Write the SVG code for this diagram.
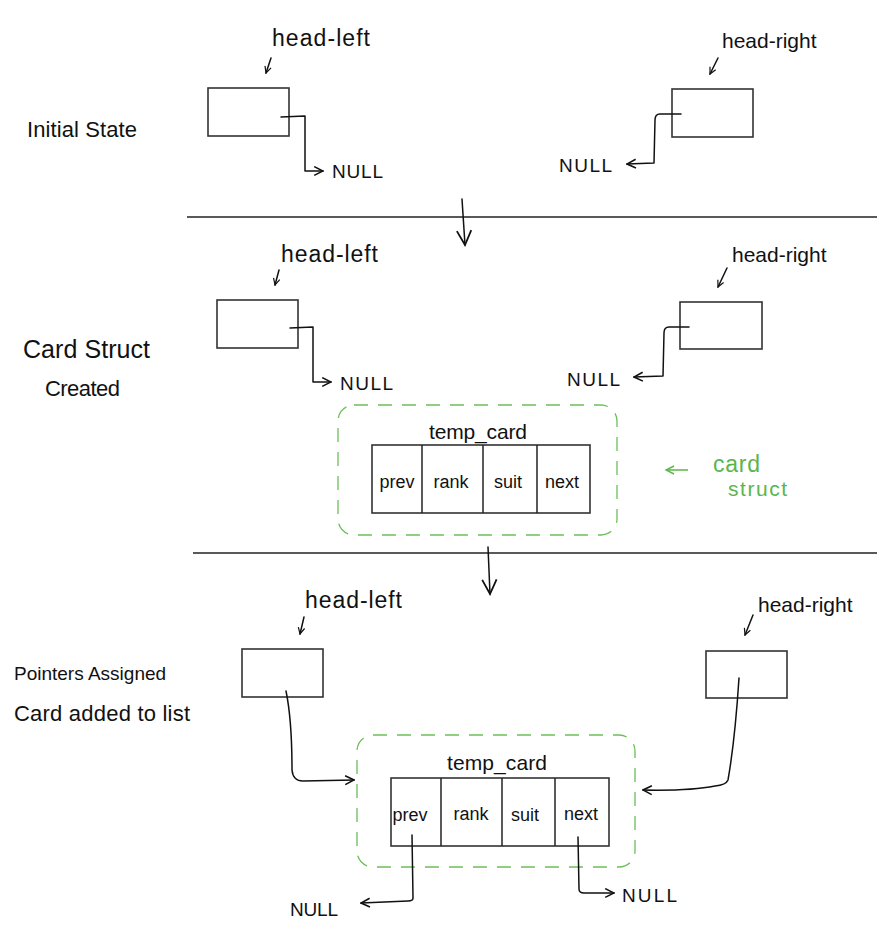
<svg xmlns="http://www.w3.org/2000/svg" width="893" height="929" viewBox="0 0 893 929">
<style>
text{font-family:"Liberation Sans","DejaVu Sans",sans-serif;fill:#111}
.lbl{font-size:22px}
.hd{font-size:23px}
.hr{font-size:21px}
.nul{font-size:19px}
.cell{font-size:18px}
.tc{font-size:21px}
.box{fill:#fff;stroke:#333;stroke-width:1.6}
.ln{fill:none;stroke:#111;stroke-width:1.5;stroke-linecap:round;stroke-linejoin:round}
.div{stroke:#222;stroke-width:1.5}
.grp{fill:none;stroke:#6cbf5a;stroke-width:1.3;stroke-dasharray:14 10}
.grn{fill:#5cb54a}
</style>
<defs>
<marker id="ah" viewBox="0 0 10 10" refX="9" refY="5" markerWidth="11" markerHeight="11" markerUnits="userSpaceOnUse" orient="auto">
<path d="M1,1 L9,5 L1,9" fill="none" stroke="#111" stroke-width="1.4"/>
</marker>
<marker id="ahs" viewBox="0 0 10 10" refX="9" refY="5" markerWidth="8" markerHeight="8" markerUnits="userSpaceOnUse" orient="auto">
<path d="M1,1 L9,5 L1,9" fill="none" stroke="#111" stroke-width="1.5"/>
</marker>
<marker id="ahb" viewBox="0 0 10 10" refX="9" refY="5" markerWidth="18" markerHeight="18" markerUnits="userSpaceOnUse" orient="auto">
<path d="M1,1 L9,5 L1,9" fill="none" stroke="#111" stroke-width="1"/>
</marker>
<marker id="ahg" viewBox="0 0 10 10" refX="9" refY="5" markerWidth="10" markerHeight="10" markerUnits="userSpaceOnUse" orient="auto">
<path d="M1,1 L9,5 L1,9" fill="none" stroke="#5cb54a" stroke-width="1.4"/>
</marker>
</defs>

<g id="labels">
<text class="lbl" x="27" y="137" textLength="110">Initial State</text>
<text x="23" y="358" style="font-size:25px" textLength="127">Card Struct</text>
<text class="lbl" x="45" y="396" textLength="75">Created</text>
<text x="14" y="680" style="font-size:19px">Pointers Assigned</text>
<text class="lbl" x="14" y="721" textLength="176">Card added to list</text>
</g>

<g id="dividers">
<line class="div" x1="187" y1="217" x2="877" y2="217"/>
<line class="div" x1="193" y1="553" x2="877" y2="553"/>
</g>

<g id="s1-head-left">
<text class="hd" x="272" y="46" textLength="98">head-left</text>
<rect class="box" x="208" y="88" width="81" height="48"/>
</g>
<g id="s1-head-right">
<text class="hr" x="722" y="48">head-right</text>
<rect class="box" x="672" y="89" width="81" height="48"/>
</g>
<g id="s1-null-left"><text class="nul" x="332" y="178" textLength="51">NULL</text></g>
<g id="s1-null-right"><text class="nul" x="559" y="172" textLength="53">NULL</text></g>

<g id="s2-head-left">
<text class="hd" x="281" y="262" textLength="97">head-left</text>
<rect class="box" x="217" y="300" width="81" height="48"/>
</g>
<g id="s2-head-right">
<text class="hr" x="732" y="262">head-right</text>
<rect class="box" x="680" y="302" width="82" height="47"/>
</g>
<g id="s2-null-left"><text class="nul" x="340" y="390" textLength="53">NULL</text></g>
<g id="s2-null-right"><text class="nul" x="567" y="386" textLength="53">NULL</text></g>
<g id="s2-temp-card">
<rect class="grp" x="338" y="405" width="279" height="130" rx="16"/>
<text class="tc" x="478" y="439" text-anchor="middle" textLength="98">temp_card</text>
<rect class="box" x="372" y="445" width="218" height="68"/>
<line class="div" x1="422" y1="445" x2="422" y2="513"/>
<line class="div" x1="483" y1="445" x2="483" y2="513"/>
<line class="div" x1="537" y1="445" x2="537" y2="513"/>
<text class="cell" x="397" y="488" text-anchor="middle">prev</text>
<text class="cell" x="451" y="488" text-anchor="middle">rank</text>
<text class="cell" x="508" y="488" text-anchor="middle">suit</text>
<text class="cell" x="562" y="488" text-anchor="middle">next</text>
</g>
<g id="s2-card-struct-note">
<text class="grn" x="713" y="472" style="font-size:23px" textLength="47">card</text>
<text class="grn" x="728" y="496" style="font-size:21px" textLength="59">struct</text>
</g>

<g id="s3-head-left">
<text class="hd" x="305" y="608" textLength="97">head-left</text>
<rect class="box" x="242" y="649" width="81" height="48"/>
</g>
<g id="s3-head-right">
<text class="hr" x="758" y="612">head-right</text>
<rect class="box" x="706" y="651" width="81" height="47"/>
</g>
<g id="s3-temp-card">
<rect class="grp" x="357" y="735" width="278" height="132" rx="16"/>
<text class="tc" x="497" y="770" text-anchor="middle" textLength="100">temp_card</text>
<rect class="box" x="391" y="778" width="218" height="68"/>
<line class="div" x1="441" y1="778" x2="441" y2="846"/>
<line class="div" x1="502" y1="778" x2="502" y2="846"/>
<line class="div" x1="555" y1="778" x2="555" y2="846"/>
<text class="cell" x="410" y="821" text-anchor="middle">prev</text>
<text class="cell" x="471" y="820" text-anchor="middle">rank</text>
<text class="cell" x="525" y="821" text-anchor="middle">suit</text>
<text class="cell" x="581" y="820" text-anchor="middle">next</text>
</g>
<g id="s3-null-left"><text class="nul" x="290" y="916" textLength="48">NULL</text></g>
<g id="s3-null-right"><text class="nul" x="622" y="902" textLength="55">NULL</text></g>

<g id="connectors">
<line class="ln" x1="271" y1="58" x2="266" y2="73" marker-end="url(#ahs)"/>
<line class="ln" x1="718" y1="58" x2="710" y2="74" marker-end="url(#ahs)"/>
<line class="ln" x1="279" y1="270" x2="275" y2="285" marker-end="url(#ahs)"/>
<line class="ln" x1="727" y1="268" x2="718" y2="287" marker-end="url(#ahs)"/>
<line class="ln" x1="304" y1="617" x2="300" y2="634" marker-end="url(#ahs)"/>
<line class="ln" x1="753" y1="615" x2="745" y2="635" marker-end="url(#ahs)"/>
<path class="ln" d="M281,117 L305,116 L305,171 L323,171" marker-end="url(#ah)"/>
<path class="ln" d="M681,114 L660,114 Q655,114 655,120 L654,163 L627,164" marker-end="url(#ah)"/>
<path class="ln" d="M462,199 L465,245" marker-end="url(#ahb)"/>
<path class="ln" d="M488,547 L490,594" marker-end="url(#ahb)"/>
<path class="ln" d="M290,328 L313,327 L313,382 L331,382" marker-end="url(#ah)"/>
<path class="ln" d="M689,327 L669,327 Q664,327 664,333 L663,376 L634,377" marker-end="url(#ah)"/>
<line x1="688" y1="470" x2="666" y2="470" stroke="#5cb54a" stroke-width="1.5" marker-end="url(#ahg)"/>
<path class="ln" d="M286,691 Q292,720 292,770 Q293,781 303,781 L354,780" marker-end="url(#ah)"/>
<path class="ln" d="M739,678 Q735,740 728,780 Q726,785 715,786 Q690,791 643,790" marker-end="url(#ah)"/>
<path class="ln" d="M412,835 L413,898 Q413,901 408,901 L361,903" marker-end="url(#ah)"/>
<path class="ln" d="M578,837 L579,889 Q579,893 584,893 L614,893" marker-end="url(#ah)"/>
</g>
</svg>
